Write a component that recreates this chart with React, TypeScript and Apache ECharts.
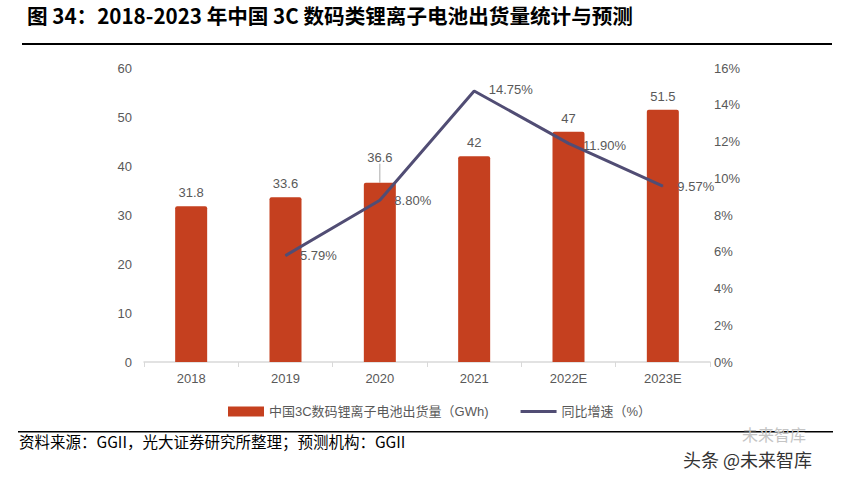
import React, { useEffect, useRef } from "react";
import * as echarts from "echarts";

const categories = ["2018", "2019", "2020", "2021", "2022E", "2023E"];
const shipments = [31.8, 33.6, 36.6, 42, 47, 51.5];
const growth: (number | null)[] = [null, 5.79, 8.8, 14.75, 11.9, 9.57];
const leftTicks = { min: 0, max: 60, interval: 10 };
const rightTicks = { min: 0, max: 16, interval: 2 };

const title = "图 34：2018-2023 年中国 3C 数码类锂离子电池出货量统计与预测";
const source = "资料来源：GGII，光大证券研究所整理；预测机构：GGII";
const barName = "中国3C数码锂离子电池出货量（GWh)";
const lineName = "同比增速（%）";

const FONT = "'Liberation Sans', Arial, 'Noto Sans CJK SC', sans-serif";
const GRAY = "#595959";

export default function App() {
  const ref = useRef<HTMLDivElement>(null);
  useEffect(() => {
    const chart = echarts.init(ref.current!, null, { renderer: "svg" });
    chart.setOption({
      animation: false,
      textStyle: { fontFamily: FONT },
      grid: { left: 144, right: 142, top: 68, bottom: 123 },
      graphic: [
        {
          type: "text",
          left: 27,
          top: 5,
          style: {
            text: title,
            font: "bold 20.6px 'Noto Sans CJK SC', sans-serif",
            fill: "#000",
          },
        },
        { type: "rect", shape: { x: 22, y: 43, width: 810, height: 2 }, style: { fill: "#000" } },
        { type: "rect", shape: { x: 18, y: 431, width: 815, height: 1.5 }, style: { fill: "#000" } },
        {
          type: "text",
          left: 19,
          top: 433,
          style: { text: source, font: "15.5px 'Noto Sans CJK SC', sans-serif", fill: "#000" },
        },
        {
          type: "text",
          left: 742,
          top: 426,
          style: { text: "未来智库", font: "16px 'Noto Sans CJK SC', sans-serif", fill: "#c4c4c4" },
        },
        {
          type: "text",
          left: 683,
          top: 450,
          style: { text: "头条 @未来智库", font: "18px 'Noto Sans CJK SC', sans-serif", fill: "#333" },
        },
      ],
      legend: {
        top: 400,
        left: 223,
        itemGap: 32,
        itemWidth: 36,
        itemHeight: 10,
        textStyle: { color: GRAY, fontSize: 13, fontFamily: FONT },
        data: [
          { name: barName, icon: "rect" },
          { name: lineName, icon: "path://M0,0 L36,0 L36,3 L0,3 Z" },
        ],
      },
      xAxis: {
        type: "category",
        data: categories,
        axisLine: { lineStyle: { color: "#d9d9d9", width: 1.5 } },
        axisTick: { show: true, lineStyle: { color: "#d9d9d9" } },
        axisLabel: { color: GRAY, fontSize: 13, margin: 10 },
      },
      yAxis: [
        {
          type: "value",
          ...leftTicks,
          splitLine: { show: false },
          axisLine: { show: false },
          axisLabel: { color: GRAY, fontSize: 13, margin: 12 },
        },
        {
          type: "value",
          ...rightTicks,
          splitLine: { show: false },
          axisLine: { show: false },
          axisLabel: { color: GRAY, fontSize: 13, margin: 4, formatter: "{value}%" },
        },
      ],
      series: [
        {
          name: barName,
          type: "bar",
          data: shipments.map((v, i) =>
            i === 2 ? { value: v, labelLine: { show: true, lineStyle: { color: "#aaa" } } } : v
          ),
          barWidth: 32,
          itemStyle: { color: "#C5401F", borderRadius: [2, 2, 0, 0] },
          label: { show: true, position: "top", color: GRAY, fontSize: 13, distance: 7 },
          labelLayout: (p: any) => (p.dataIndex === 2 ? { dy: -12 } : {}),
          labelLine: { show: false },
        },
        {
          name: lineName,
          type: "line",
          yAxisIndex: 1,
          z: 3,
          data: growth,
          symbol: "circle",
          symbolSize: 1,
          showSymbol: true,
          lineStyle: { color: "#514D74", width: 3 },
          itemStyle: { color: "#514D74" },
          label: {
            show: true,
            position: "right",
            distance: 14,
            color: GRAY,
            fontSize: 13,
            formatter: (p: any) => (p.value == null ? "" : p.value.toFixed(2) + "%"),
          },
          labelLayout: (p: any) =>
            p.dataIndex === 3 ? { dy: -1 } : p.dataIndex === 4 ? { dy: 2 } : {},
        },
      ],
    });
    return () => chart.dispose();
  }, []);
  return (
    <div
      ref={ref}
      style={{ position: "fixed", left: 0, top: 0, width: 852, height: 485, background: "#fff" }}
    />
  );
}
